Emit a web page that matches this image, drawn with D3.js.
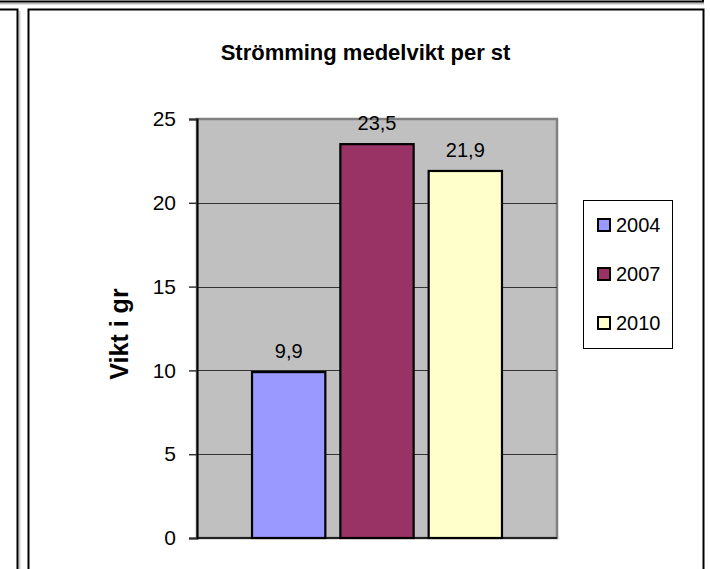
<!DOCTYPE html>
<html>
<head>
<meta charset="utf-8">
<script src="https://cdn.jsdelivr.net/npm/d3@7"></script>
<style>
  html, body { margin: 0; padding: 0; background: #fff; }
  svg { display: block; }
  text { font-family: "Liberation Sans", Arial, sans-serif; }
</style>
</head>
<body>
<svg id="chart" width="710" height="569"></svg>
<script>
const title = "Strömming medelvikt per st";
const yAxisTitle = "Vikt i gr";
const series = ["2004", "2007", "2010"];
const values = [9.9, 23.5, 21.9];
const valueLabels = ["9,9", "23,5", "21,9"];
const colors = ["#9999FF", "#993366", "#FFFFCC"];
const yTicks = [0, 5, 10, 15, 20, 25];

const svg = d3.select("#chart");

// Surrounding frames (parts of neighbouring panels)
const frame = svg.append("g");
frame.append("line").attr("x1", 0).attr("x2", 704).attr("y1", 3.5).attr("y2", 3.5)
  .attr("stroke", "#bbb").attr("stroke-width", 2);
frame.append("path").attr("d", "M0,1.5H703V-2").attr("fill", "none")
  .attr("stroke", "#000").attr("stroke-width", 2);
frame.append("line").attr("x1", 19.5).attr("x2", 19.5).attr("y1", 11).attr("y2", 569)
  .attr("stroke", "#ccc").attr("stroke-width", 2);
frame.append("path").attr("d", "M0,9.5H17.5V569").attr("fill", "none")
  .attr("stroke", "#000").attr("stroke-width", 2);
frame.append("path").attr("d", "M28.5,571V9.5H703.5V571").attr("fill", "none")
  .attr("stroke", "#000").attr("stroke-width", 2);

// Plot area
const plot = { left: 197, right: 557, top: 119, bottom: 538 };

const y = d3.scaleLinear().domain([0, 25]).range([plot.bottom, plot.top]);
const x = d3.scaleBand().domain(series).range([plot.left, plot.right])
  .paddingInner(0.17).paddingOuter(0.623);

svg.append("rect")
  .attr("x", plot.left).attr("y", plot.top)
  .attr("width", plot.right - plot.left).attr("height", plot.bottom - plot.top)
  .attr("fill", "#C0C0C0").attr("stroke", "#808080").attr("stroke-width", 2.5);

svg.append("g").selectAll("line").data(yTicks.filter(t => t > 0 && t < 25)).join("line")
  .attr("x1", plot.left).attr("x2", plot.right)
  .attr("y1", d => Math.round(y(d)) + 0.5).attr("y2", d => Math.round(y(d)) + 0.5)
  .attr("stroke", "#333").attr("stroke-width", 1);

svg.append("g").selectAll("rect").data(series).join("rect")
  .attr("x", d => x(d)).attr("width", x.bandwidth())
  .attr("y", (d, i) => y(values[i]))
  .attr("height", (d, i) => y(0) - y(values[i]))
  .attr("fill", (d, i) => colors[i])
  .attr("stroke", "#000").attr("stroke-width", 2.2);

svg.append("g").selectAll("text").data(series).join("text")
  .attr("x", d => x(d) + x.bandwidth() / 2)
  .attr("y", (d, i) => y(values[i]) - 14)
  .attr("text-anchor", "middle")
  .attr("font-size", 20)
  .attr("fill", "#000")
  .text((d, i) => valueLabels[i]);

const yAxis = d3.axisLeft(y).tickValues(yTicks).tickSize(8).tickPadding(13)
  .tickFormat(d3.format("d"));
const ag = svg.append("g").attr("transform", `translate(${plot.left},0)`).call(yAxis);
ag.select(".domain").attr("stroke", "#000").attr("stroke-width", 2);
ag.selectAll(".tick line").attr("stroke", "#333").attr("stroke-width", 1.5);
ag.selectAll(".tick text").attr("font-size", 21).attr("fill", "#000")
  .attr("font-family", "'Liberation Sans', Arial, sans-serif");

svg.append("line").attr("x1", plot.left).attr("x2", plot.right)
  .attr("y1", plot.bottom).attr("y2", plot.bottom)
  .attr("stroke", "#000").attr("stroke-width", 1.5);

svg.append("text").attr("x", 365.5).attr("y", 60)
  .attr("text-anchor", "middle").attr("font-size", 22).attr("font-weight", "bold")
  .text(title);

svg.append("text")
  .attr("transform", "translate(128,334) rotate(-90)")
  .attr("text-anchor", "middle").attr("font-size", 25).attr("font-weight", "bold")
  .text(yAxisTitle);

const lg = svg.append("g");
lg.append("rect").attr("x", 583.5).attr("y", 200.5).attr("width", 89).attr("height", 148)
  .attr("fill", "#fff").attr("stroke", "#000").attr("stroke-width", 1);
const items = lg.selectAll("g.item").data(series).join("g").attr("class", "item")
  .attr("transform", (d, i) => `translate(0,${225 + i * 49})`);
items.append("rect").attr("x", 598).attr("y", -6).attr("width", 12).attr("height", 12)
  .attr("fill", (d, i) => colors[i]).attr("stroke", "#000").attr("stroke-width", 2);
items.append("text").attr("x", 616).attr("y", 7).attr("font-size", 20)
  .text(d => d);
</script>
</body>
</html>
